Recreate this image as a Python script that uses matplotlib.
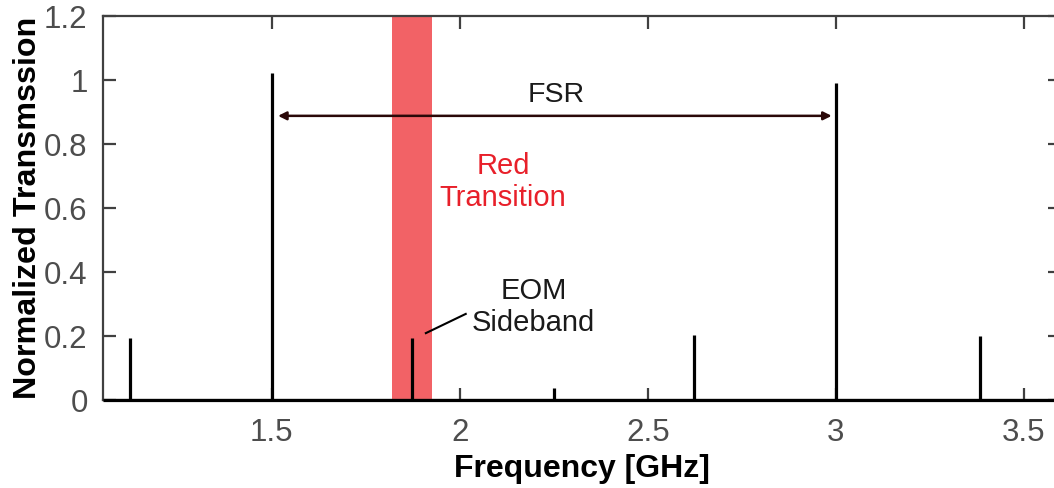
import matplotlib
matplotlib.use("Agg")
import matplotlib.pyplot as plt
import numpy as np

plt.rcParams['font.family'] = ['Liberation Sans', 'DejaVu Sans']

# Data
peak_freqs = [1.123, 1.5, 1.873, 2.25, 2.623, 3.0, 3.384]   # GHz
peak_heights = [0.195, 1.021, 0.195, 0.037, 0.203, 0.992, 0.200]
red_band = (1.820, 1.927)
fsr_span = (1.517, 2.989)
fsr_level = 0.888
x_ticks = [1.5, 2, 2.5, 3, 3.5]
x_tick_labels = ['1.5', '2', '2.5', '3', '3.5']
y_ticks = [0, 0.2, 0.4, 0.6, 0.8, 1.0, 1.2]
y_tick_labels = ['0', '0.2', '0.4', '0.6', '0.8', '1', '1.2']
xlim = (1.0516, 3.596)
ylim = (0, 1.2)

fig = plt.figure(figsize=(10.54, 4.88), dpi=100)
ax = fig.add_axes([103/1054, 88/488, 957/1054, 384/488])

spine_col = '#404040'
for s in ax.spines.values():
    s.set_color(spine_col)
    s.set_linewidth(1.6)

ax.axvspan(red_band[0], red_band[1], color='#F26266', lw=0, zorder=1)

# spectrum: baseline and peaks
ax.plot(xlim, [0, 0], color='black', lw=2.3, zorder=3, solid_capstyle='butt', clip_on=False)
ax.vlines(peak_freqs, 0, peak_heights, color='black', lw=2.3, zorder=3)

# FSR arrow
ax.annotate('', xy=(fsr_span[0], fsr_level), xytext=(fsr_span[1], fsr_level),
            arrowprops=dict(arrowstyle='<|-|>', color='#2a0808', lw=1.8,
                            mutation_scale=12, shrinkA=0, shrinkB=0), zorder=4)
ax.text(2.256, 0.953, 'FSR', ha='center', va='center', fontsize=20.5, color='#1a1a1a')

ax.text(2.115, 0.680, 'Red\nTransition', ha='center', va='center', fontsize=21,
        color='#E8202A', linespacing=1.18)

ax.text(2.197, 0.29, 'EOM\nSideband', ha='center', va='center', fontsize=21,
        color='#1a1a1a', linespacing=1.2)
ax.plot([1.910, 2.016], [0.209, 0.269], color='black', lw=1.5, zorder=4)

ax.set_xlim(*xlim)
ax.set_ylim(*ylim)
ax.set_xticks(x_ticks)
ax.set_xticklabels(x_tick_labels)
ax.set_yticks(y_ticks)
ax.set_yticklabels(y_tick_labels)
ax.tick_params(direction='in', length=9, width=1.6, color=spine_col,
               labelsize=22.5, labelcolor='#4d4d4d', top=True, right=True)
ax.tick_params(axis='x', pad=13)
ax.tick_params(axis='y', pad=11)

ax.set_xlabel('Frequency [GHz]', fontsize=23, fontweight='bold', labelpad=4)
ax.set_ylabel('Normalized Transmssion', fontsize=23.2, fontweight='bold', labelpad=1)

fig.savefig('out.png', dpi=100)
